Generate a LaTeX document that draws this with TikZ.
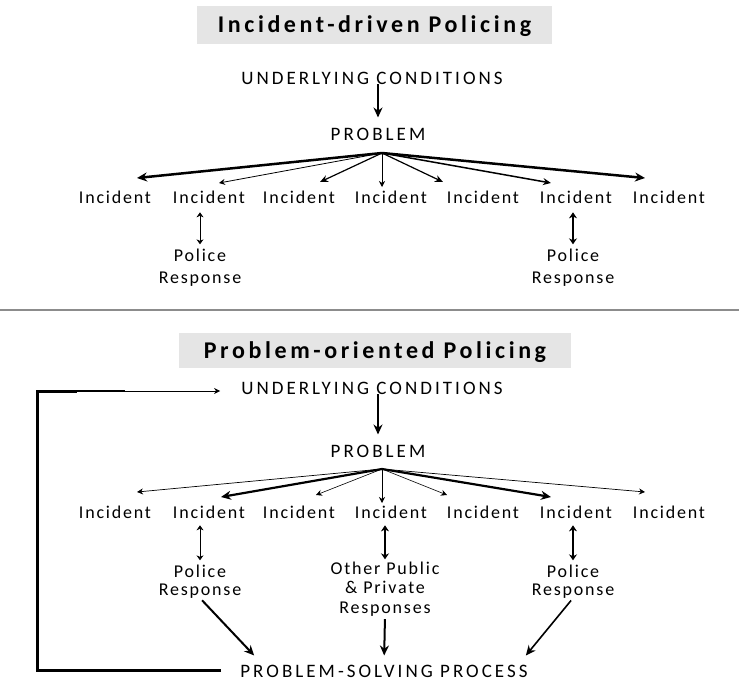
\documentclass[tikz,border=0pt]{standalone}
\usepackage{fontspec}
\setmainfont{Carlito}
\newfontfamily\capsfont{Carlito}[LetterSpace=16]
\newfontfamily\txtfont{Carlito}[LetterSpace=10]
\newfontfamily\ttlfont{Carlito}[LetterSpace=15]
\usetikzlibrary{arrows.meta,calc}
\begin{document}
\begin{tikzpicture}[x=1pt,y=-1pt,
  caps/.style={inner sep=0pt, anchor=base, font=\capsfont\fontsize{19}{22}\selectfont},
  txt/.style={inner sep=0pt, anchor=base, align=center, font=\txtfont\fontsize{18}{22}\selectfont},
  txtb/.style={inner sep=0pt, anchor=base, align=center, font=\txtfont\fontsize{18}{18}\selectfont},
  ttl/.style={fill=black!10, inner sep=0pt, text height=15pt, text depth=0pt, font=\ttlfont\bfseries\fontsize{24}{28}\selectfont},
  arrbig/.style={-{Stealth[length=10pt,width=9pt]}},
  arrmid/.style={-{Stealth[length=8pt,width=7pt]}},
  arrsml/.style={-{Stealth[length=6pt,width=6pt]}},
  dblthin/.style={{Stealth[length=5pt,width=7pt]}-{Stealth[length=5pt,width=7pt]}, line width=0.7pt},
  dblthick/.style={{Stealth[length=6pt,width=8pt]}-{Stealth[length=6pt,width=8pt]}, line width=2pt},
]
\fill[white] (0,0) rectangle (739,681);
\useasboundingbox (0,0) rectangle (739,681);

% ---------- Incident-driven Policing ----------
\node[ttl, minimum width=355pt, minimum height=38pt] (t1) at (374.5,24.5) {Incident-driven Policing};
\node[caps] (uc1) at (372,84) {UNDERLYING CONDITIONS};
\node[caps] (pb1) at (378,140) {PROBLEM};
\node[txt] (a1) at (115,203) {Incident};
\node[txt] (a2) at (209,203) {Incident};
\node[txt] (a3) at (299,203) {Incident};
\node[txt] (a4) at (391,203) {Incident};
\node[txt] (a5) at (483,203) {Incident};
\node[txt] (a6) at (576,203) {Incident};
\node[txt] (a7) at (669,203) {Incident};
\node[txt] (ra) at (200,283) {Police\\Response};
\node[txt] (rb) at (573,283) {Police\\Response};

\draw[arrbig, line width=2.5pt, shorten >=10pt] (uc1.south -| pb1.north) -- (pb1.north);
\coordinate (o1) at (382,153);
\coordinate (p11) at (137,178);
\coordinate (p12) at (219,183);
\coordinate (p13) at (320,182);
\coordinate (p14) at (382,187);
\coordinate (p15) at (443,182);
\coordinate (p16) at (551,183);
\coordinate (p17) at (645,178);
\draw[arrbig, line width=2.5pt] (o1) -- (p11);
\draw[arrsml, line width=0.8pt] (o1) -- (p12);
\draw[arrmid, line width=1.2pt] (o1) -- (p13);
\draw[arrsml, line width=0.6pt] (o1) -- (p14);
\draw[arrmid, line width=1.2pt] (o1) -- (p15);
\draw[arrmid, line width=1.5pt] (o1) -- (p16);
\draw[arrbig, line width=2.5pt] (o1) -- (p17);
\draw[dblthin, shorten <=9pt, shorten >=4pt] (ra.north |- a2.south) -- (ra.north);
\draw[dblthick, shorten <=9pt, shorten >=4pt] (rb.north |- a6.south) -- (rb.north);

% separator
\draw[black!45, line width=1.5pt] (0,310) -- (739,310);

% ---------- Problem-oriented Policing ----------
\node[ttl, minimum width=392pt, minimum height=35pt] (t2) at (375,350.5) {Problem-oriented Policing};
\node[caps] (uc2) at (372,394) {UNDERLYING CONDITIONS};
\node[caps] (pb2) at (378,457) {PROBLEM};
\node[txt] (b1) at (115,518) {Incident};
\node[txt] (b2) at (209,518) {Incident};
\node[txt] (b3) at (299,518) {Incident};
\node[txt] (b4) at (391,518) {Incident};
\node[txt] (b5) at (483,518) {Incident};
\node[txt] (b6) at (576,518) {Incident};
\node[txt] (b7) at (669,518) {Incident};
\node[txtb] (rc) at (200,595) {Police\\Response};
\node[txtb, font=\txtfont\fontsize{18}{19.5}\selectfont] (oc) at (385,613) {Other Public\\\& Private\\Responses};
\node[txtb] (rd) at (573,595) {Police\\Response};
\node[caps] (psp) at (384,677) {PROBLEM-SOLVING PROCESS};

\draw[arrbig, line width=2.5pt, shorten >=10pt] (uc2.south -| pb2.north) -- (pb2.north);
\coordinate (o2) at (382,469);
\coordinate (p21) at (137,492);
\coordinate (p22) at (221,497);
\coordinate (p23) at (316,495);
\coordinate (p24) at (382,503);
\coordinate (p25) at (447,495);
\coordinate (p26) at (551,497);
\coordinate (p27) at (645,492);
\draw[arrsml, line width=0.7pt] (o2) -- (p21);
\draw[arrbig, line width=2.2pt] (o2) -- (p22);
\draw[arrsml, line width=0.6pt] (o2) -- (p23);
\draw[arrsml, line width=0.8pt] (o2) -- (p24);
\draw[arrsml, line width=0.6pt] (o2) -- (p25);
\draw[arrbig, line width=2.2pt] (o2) -- (p26);
\draw[arrsml, line width=0.7pt] (o2) -- (p27);

\draw[dblthin, shorten <=7pt, shorten >=4pt] (rc.north |- b2.south) -- (rc.north);
\draw[dblthick, shorten <=7pt, shorten >=2pt] (oc.north |- b4.south) -- (oc.north);
\draw[dblthick, shorten <=7pt, shorten >=4pt] (rd.north |- b6.south) -- (rd.north);

\draw[arrbig, line width=2pt, shorten <=3pt] (rc.south) -- ($(psp.north west)+(14,-9)$);
\draw[arrbig, line width=2pt, shorten <=3pt, shorten >=9pt] (oc.south) -- (psp.north);
\draw[arrbig, line width=1.6pt, shorten <=3pt] (rd.south) -- ($(psp.north east)+(-2,-9)$);

% feedback loop
\coordinate (fb) at (37,391);
\coordinate (fm1) at (77,391);
\coordinate (fm2) at (125,391);
\coordinate (fm3) at (173,391);
\draw[line width=3pt, shorten <=19pt] (psp.west) -- (psp.west -| fb) -- (fb) -- (fm1);
\draw[line width=1.8pt] (fm1) -- (fm2);
\draw[line width=1pt] (fm2) -- (fm3);
\draw[arrsml, line width=0.6pt, shorten >=21pt] (fm3) -- (uc2.west |- fb);
\end{tikzpicture}
\end{document}
